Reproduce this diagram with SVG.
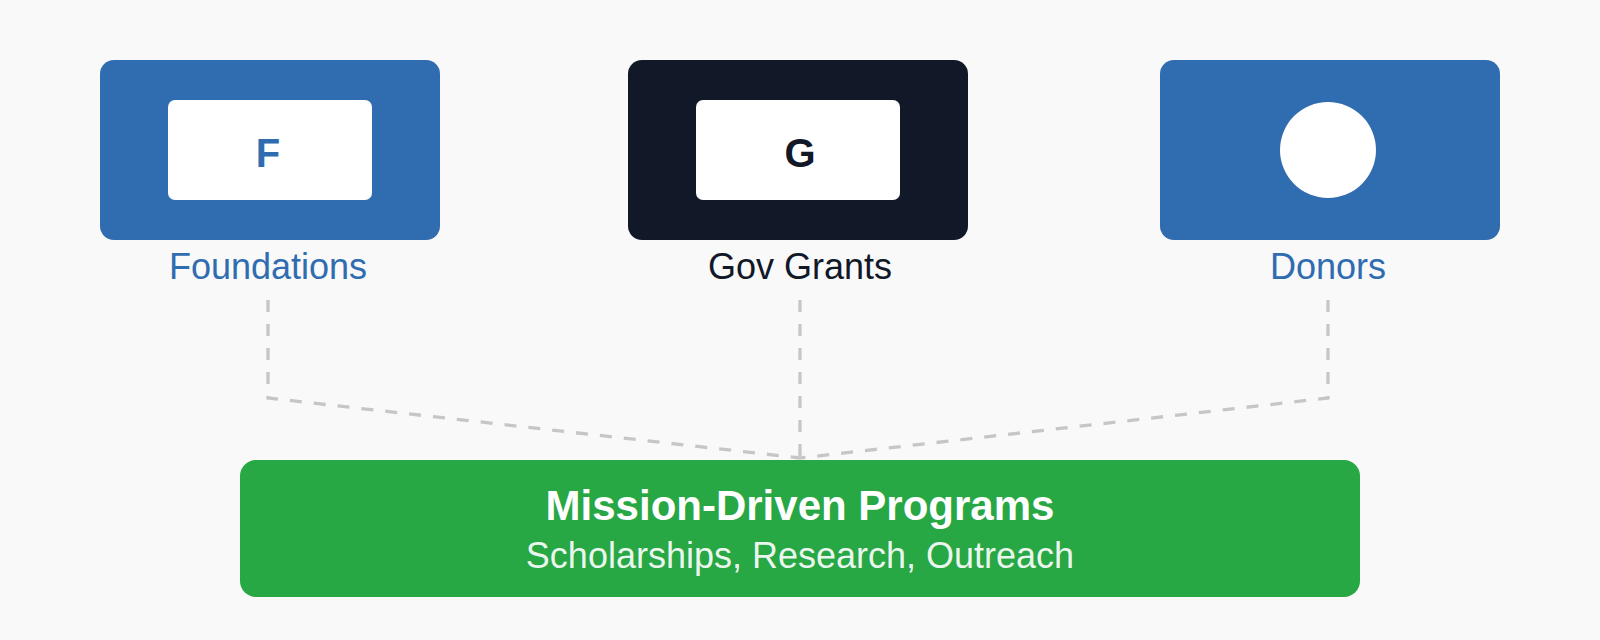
<svg xmlns="http://www.w3.org/2000/svg" width="1600" height="640" viewBox="0 0 1600 640">
  <style>
    .lbl { font-family: "Liberation Sans", Arial, sans-serif; font-size: 36px; text-anchor: middle; }
    .ico { font-family: "Liberation Sans", Arial, sans-serif; font-size: 40px; font-weight: 700; text-anchor: middle; }
    .blue { fill: #2f6cb0; }
    .dark { fill: #111827; }
    .inner { fill: #ffffff; }
    .conn { fill: none; stroke: #c6c6c6; stroke-width: 3.3; stroke-dasharray: 12 12; }
    .title { font-family: "Liberation Sans", Arial, sans-serif; font-size: 42px; font-weight: 700; fill: #ffffff; text-anchor: middle; }
    .sub { font-family: "Liberation Sans", Arial, sans-serif; font-size: 36px; fill: #ffffff; fill-opacity: 0.92; text-anchor: middle; }
  </style>
  <rect x="0" y="0" width="1600" height="640" fill="#f9f9f9"/>

  <g id="connectors">
    <path class="conn" d="M268 300 V398 L800 458"/>
    <path class="conn" d="M800 300 V458"/>
    <path class="conn" d="M1328 300 V398 L800 458"/>
  </g>

  <g id="foundations">
    <rect class="blue" x="100" y="60" width="340" height="180" rx="14"/>
    <rect class="inner" x="168" y="100" width="204" height="100" rx="7"/>
    <text class="ico blue" x="268" y="167">F</text>
    <text class="lbl blue" x="268" y="279">Foundations</text>
  </g>

  <g id="gov-grants">
    <rect class="dark" x="628" y="60" width="340" height="180" rx="14"/>
    <rect class="inner" x="696" y="100" width="204" height="100" rx="7"/>
    <text class="ico dark" x="800" y="167">G</text>
    <text class="lbl dark" x="800" y="279">Gov Grants</text>
  </g>

  <g id="donors">
    <rect class="blue" x="1160" y="60" width="340" height="180" rx="14"/>
    <circle class="inner" cx="1328" cy="150" r="48"/>
    <text class="lbl blue" x="1328" y="279">Donors</text>
  </g>

  <g id="programs">
    <rect x="240" y="460" width="1120" height="137" rx="16" fill="#28a745"/>
    <text class="title" x="800" y="520">Mission-Driven Programs</text>
    <text class="sub" x="800" y="568">Scholarships, Research, Outreach</text>
  </g>
</svg>
